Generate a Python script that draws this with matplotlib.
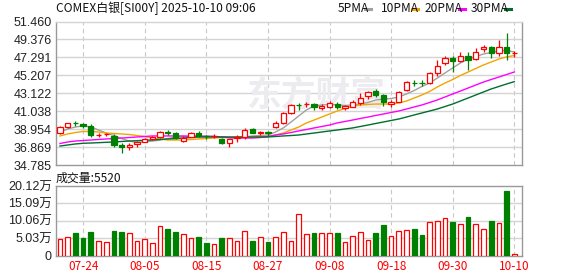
import numpy as np
import matplotlib.pyplot as plt
from matplotlib.patches import Rectangle
from matplotlib.lines import Line2D

plt.rcParams['font.family'] = ['Liberation Sans', 'Noto Sans CJK SC', 'DejaVu Sans']

# 交易日
dates = ['07-21', '07-22', '07-23', '07-24', '07-25', '07-28', '07-29', '07-30', '07-31', '08-01',
         '08-04', '08-05', '08-06', '08-07', '08-08', '08-11', '08-12', '08-13', '08-14', '08-15',
         '08-18', '08-19', '08-20', '08-21', '08-22', '08-25', '08-26', '08-27', '08-28', '08-29',
         '09-01', '09-02', '09-03', '09-04', '09-05', '09-08', '09-09', '09-10', '09-11', '09-12',
         '09-15', '09-16', '09-17', '09-18', '09-19', '09-22', '09-23', '09-24', '09-25', '09-26',
         '09-29', '09-30', '10-01', '10-02', '10-03', '10-06', '10-07', '10-08', '10-09', '10-10']

opens = [38.47, 39.24, 39.64, 39.55, 39.32, 38.25, 38.33, 38.16, 37.14, 36.91,
         37.23, 37.49, 37.80, 38.04, 38.58, 38.47, 37.63, 38.07, 38.47, 38.21,
         38.14, 37.80, 37.31, 37.89, 38.07, 38.97, 38.55, 38.62, 39.24, 39.63,
         40.79, 41.77, 41.82, 41.87, 41.37, 41.56, 41.87, 41.37, 41.58, 42.02,
         42.80, 43.38, 42.92, 41.87, 42.14, 43.50, 44.36, 44.36, 44.28, 45.53,
         46.60, 47.25, 46.91, 47.45, 47.07, 48.23, 48.53, 47.77, 48.53, 47.75]
closes = [39.24, 39.63, 39.62, 39.32, 38.27, 38.29, 38.37, 37.11, 36.84, 37.14,
          37.46, 37.80, 38.07, 38.62, 38.55, 37.89, 37.96, 38.47, 38.16, 38.10,
          38.17, 37.31, 37.77, 38.07, 38.85, 38.54, 38.58, 38.50, 39.70, 40.79,
          41.76, 41.75, 41.85, 41.49, 41.64, 41.96, 41.56, 41.64, 42.14, 42.61,
          43.23, 42.92, 42.14, 42.14, 43.30, 44.40, 44.34, 44.34, 45.44, 46.32,
          47.18, 46.91, 47.45, 46.99, 47.95, 48.53, 47.77, 48.46, 47.77, 47.78]
highs = [39.32, 39.67, 39.90, 39.70, 39.55, 38.47, 38.56, 38.39, 37.31, 37.31,
         37.57, 37.98, 38.21, 38.79, 38.85, 38.62, 38.10, 38.65, 38.74, 38.25,
         38.39, 37.92, 37.86, 38.27, 39.12, 39.08, 38.79, 38.74, 39.84, 40.94,
         41.87, 42.02, 42.14, 41.99, 41.84, 42.26, 42.07, 41.76, 42.34, 43.12,
         43.38, 43.58, 43.04, 42.34, 43.38, 44.49, 44.70, 44.66, 45.56, 46.99,
         47.45, 47.45, 47.95, 47.88, 48.35, 48.73, 48.61, 49.31, 50.16, 48.07]
lows = [38.39, 39.05, 39.35, 39.05, 38.07, 38.00, 38.16, 36.84, 36.21, 36.47,
        36.88, 37.40, 37.69, 37.95, 38.27, 37.80, 37.46, 38.04, 38.04, 37.77,
        37.98, 37.17, 36.91, 37.49, 37.77, 38.45, 38.27, 38.16, 39.14, 39.55,
        40.71, 41.18, 41.56, 41.18, 41.18, 41.37, 41.26, 41.23, 41.47, 41.76,
        42.46, 42.65, 41.64, 41.58, 42.05, 43.38, 44.00, 43.97, 44.20, 45.13,
        46.40, 45.63, 46.79, 45.82, 46.99, 47.95, 47.18, 47.45, 46.99, 47.30]

# 成交量 (万)
volumes = [4.92, 5.50, 6.47, 5.02, 6.76, 4.34, 4.05, 7.04, 6.76, 6.37,
           4.34, 4.92, 3.76, 8.40, 7.62, 6.76, 6.08, 5.21, 5.31, 3.57,
           3.47, 5.02, 5.21, 4.34, 6.95, 4.15, 5.50, 3.86, 5.50, 6.66,
           4.15, 12.06, 6.27, 6.37, 6.56, 6.56, 6.37, 3.96, 5.69, 6.85,
           4.54, 6.37, 8.97, 5.69, 7.14, 7.43, 7.53, 5.79, 9.75, 10.04,
           10.90, 9.84, 9.17, 11.29, 9.17, 7.72, 10.13, 9.46, 18.53, 0.30]
vol_dir = ['r', 'r', 'g', 'g', 'g', 'r', 'r', 'g', 'g', 'r',
           'r', 'r', 'r', 'r', 'g', 'g', 'r', 'r', 'g', 'g',
           'r', 'g', 'r', 'r', 'r', 'g', 'r', 'g', 'r', 'r',
           'r', 'r', 'r', 'g', 'r', 'r', 'g', 'r', 'r', 'r',
           'r', 'g', 'g', 'r', 'r', 'r', 'g', 'g', 'r', 'r',
           'r', 'g', 'r', 'g', 'r', 'r', 'g', 'r', 'g', 'r']

ma5 = [38.62, 38.97, 39.20, 39.32, 39.20, 38.85, 38.50, 38.21, 37.86, 37.57,
       37.40, 37.46, 37.57, 37.69, 37.86, 38.04, 38.10, 38.16, 38.16, 38.16,
       38.10, 38.04, 37.92, 37.92, 38.04, 38.16, 38.21, 38.27, 38.62, 39.09,
       39.78, 40.48, 41.18, 41.64, 41.76, 41.82, 41.76, 41.70, 41.76, 41.87,
       42.05, 42.34, 42.45, 42.51, 42.69, 43.04, 43.44, 43.91, 44.31, 44.89,
       45.48, 46.06, 46.64, 47.10, 47.39, 47.68, 47.86, 48.03, 48.09, 47.92]
ma10 = [38.16, 38.39, 38.56, 38.68, 38.68, 38.62, 38.50, 38.45, 38.39, 38.33,
        38.21, 38.10, 37.92, 37.81, 37.69, 37.69, 37.69, 37.75, 37.81, 37.86,
        37.92, 37.98, 37.98, 38.04, 38.04, 38.04, 38.10, 38.10, 38.27, 38.50,
        38.85, 39.20, 39.67, 40.01, 40.36, 40.71, 41.06, 41.35, 41.64, 41.76,
        41.82, 41.87, 41.87, 41.87, 41.99, 42.22, 42.57, 42.92, 43.33, 43.85,
        44.31, 44.72, 45.19, 45.59, 46.00, 46.41, 46.75, 47.10, 47.34, 47.51]
ma20 = [37.28, 37.46, 37.57, 37.63, 37.69, 37.75, 37.81, 37.86, 37.92, 37.98,
        38.04, 38.10, 38.16, 38.16, 38.16, 38.16, 38.16, 38.10, 38.10, 38.10,
        38.10, 38.04, 37.98, 37.92, 37.92, 37.92, 37.98, 38.10, 38.27, 38.39,
        38.56, 38.74, 38.91, 39.09, 39.26, 39.43, 39.67, 39.84, 40.01, 40.19,
        40.36, 40.54, 40.71, 40.89, 41.06, 41.29, 41.53, 41.76, 42.05, 42.34,
        42.69, 43.04, 43.38, 43.73, 44.08, 44.43, 44.72, 45.01, 45.30, 45.59]
ma30 = [36.99, 37.11, 37.23, 37.31, 37.34, 37.38, 37.42, 37.46, 37.52, 37.57,
        37.61, 37.66, 37.69, 37.75, 37.81, 37.86, 37.92, 37.98, 38.04, 38.04,
        38.04, 38.04, 38.04, 38.04, 38.04, 38.04, 38.04, 38.04, 38.10, 38.16,
        38.21, 38.27, 38.39, 38.50, 38.62, 38.74, 38.85, 38.97, 39.09, 39.26,
        39.43, 39.61, 39.78, 39.96, 40.13, 40.36, 40.60, 40.83, 41.06, 41.29,
        41.58, 41.87, 42.22, 42.57, 42.92, 43.27, 43.62, 43.91, 44.20, 44.47]

price_ticks = [34.785, 36.869, 38.954, 41.038, 43.122, 45.207, 47.291, 49.376, 51.460]
price_labels = ['34.785', '36.869', '38.954', '41.038', '43.122', '45.207', '47.291', '49.376', '51.460']
vol_ticks = [0, 5.03, 10.06, 15.09, 20.12]
vol_labels = ['0', '5.03万', '10.06万', '15.09万', '20.12万']
label_idx = [3, 11, 19, 27, 35, 43, 51, 59]

RED = '#ff0000'
GREEN = '#008000'
GRID = '#d4d4d4'
FRAME = '#999999'
W, H = 578, 276

fig = plt.figure(figsize=(W / 100, H / 100), dpi=100)
ax = fig.add_axes([56 / W, 1 - 165 / H, 466 / W, 143.5 / H])
axv = fig.add_axes([56 / W, 1 - 255.5 / H, 466 / W, 69.5 / H])

x = np.arange(len(dates))
bw = 0.68

for a in (ax, axv):
    a.set_xlim(-0.52, len(dates))
    for s in ('left', 'right', 'bottom', 'top'):
        a.spines[s].set_color(FRAME)
        a.spines[s].set_linewidth(1)
    for i in label_idx:
        a.axvline(i, color='#c8c8c8', lw=0.8, ls=(0, (4, 3)), zorder=0)
ax.spines['top'].set_color(GRID)

# K线
for i in x:
    o, c, h, l = opens[i], closes[i], highs[i], lows[i]
    if c >= o:
        ax.vlines(i, c, h, color=RED, lw=0.9, zorder=3)
        ax.vlines(i, l, o, color=RED, lw=0.9, zorder=3)
        ax.add_patch(Rectangle((i - bw / 2, o), bw, c - o, facecolor='white',
                               edgecolor=RED, lw=0.9, zorder=3))
    else:
        ax.vlines(i, l, h, color=GREEN, lw=0.9, zorder=3)
        ax.add_patch(Rectangle((i - bw / 2, c), bw, o - c, facecolor=GREEN,
                               edgecolor=GREEN, lw=0.9, zorder=3))

ax.plot(x, ma5, color='#a0a0a0', lw=1.0, zorder=2)
ax.plot(x, ma10, color='#f5a300', lw=1.0, zorder=2)
ax.plot(x, ma20, color='#ff00ff', lw=1.0, zorder=2)
ax.plot(x, ma30, color='#006e2e', lw=1.0, zorder=2)

ax.set_ylim(price_ticks[0], price_ticks[-1])
ax.set_yticks(price_ticks)
ax.set_yticklabels(price_labels)
ax.set_xticks([])
for t in price_ticks[1:-1]:
    ax.axhline(t, color=GRID, lw=1, zorder=0)
ax.tick_params(axis='y', length=0, pad=3, labelsize=9, labelcolor='#222222')

# 水印
ax.text(0.548, 0.655, '东方财富', transform=fig.transFigure, fontsize=25,
        family='Noto Sans CJK SC', fontweight='bold', color='#ececf0',
        ha='center', va='center', zorder=1)

# 成交量
for i in x:
    if vol_dir[i] == 'r':
        axv.bar(i, volumes[i], width=0.62, facecolor='white', edgecolor=RED, lw=0.9, zorder=3)
    else:
        axv.bar(i, volumes[i], width=0.62, facecolor=GREEN, edgecolor=GREEN, lw=0.9, zorder=3)

axv.set_ylim(0, vol_ticks[-1])
axv.set_yticks(vol_ticks)
axv.set_yticklabels(vol_labels)
for t in vol_ticks[1:-1]:
    axv.axhline(t, color=GRID, lw=1, zorder=0)
axv.set_xticks(label_idx)
axv.set_xticklabels([dates[i] for i in label_idx])
axv.tick_params(axis='y', length=0, pad=3, labelsize=9, labelcolor='#222222')
axv.tick_params(axis='x', length=0, pad=3, labelsize=8.5, labelcolor=RED)
for lab in axv.get_xticklabels():
    lab.set_family('Noto Sans CJK SC')

# 标题与图例
fig.text(56 / W, 1 - 8 / H, 'COMEX白银[SI00Y] 2025-10-10 09:06', fontsize=8.6,
         family='Noto Sans CJK SC', va='center', ha='left', color='#111111')
fig.text(56 / W, 1 - 178 / H, '成交量:5520', fontsize=8.6,
         family='Noto Sans CJK SC', va='center', ha='left', color='#111111')

legend = [('5PMA', 338, 365, '#a0a0a0'), ('10PMA', 381, 412, '#f5a300'),
          ('20PMA', 425, 459, '#ff00ff'), ('30PMA', 471, 505, '#006e2e')]
for name, tx, lx, col in legend:
    fig.text(tx / W, 1 - 8 / H, name, fontsize=8.6, family='Noto Sans CJK SC',
             va='center', ha='left', color='#111111')
    fig.add_artist(Line2D([lx / W, (lx + 6) / W], [1 - 8.5 / H, 1 - 8.5 / H],
                          color=col, lw=2.2, transform=fig.transFigure))

fig.savefig('out.png', dpi=100)
